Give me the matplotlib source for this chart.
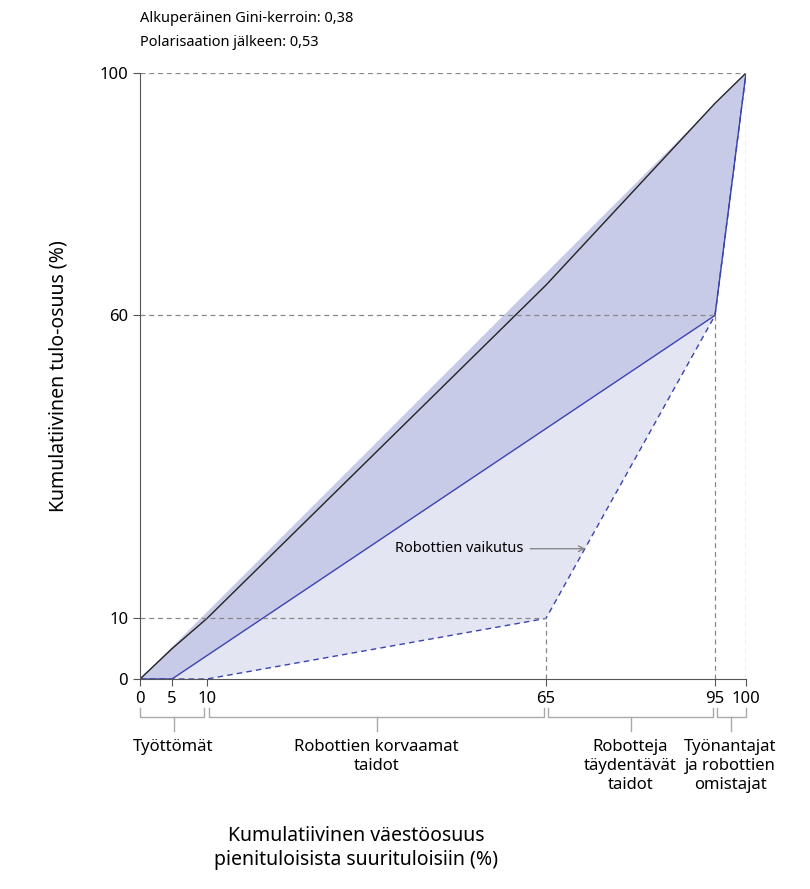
import matplotlib
matplotlib.use("Agg")
import matplotlib.pyplot as plt
import numpy as np

orig_x = [0, 5, 95, 100]
orig_y = [0, 0, 60, 100]
pol_x = [0, 10, 65, 95, 100]
pol_y = [0, 0, 10, 60, 100]
xticks = [0, 5, 10, 65, 95, 100]
yticks = [0, 10, 60, 100]
groups = [(0, 10, "Työttömät"), (10, 65, "Robottien korvaamat\ntaidot"),
          (65, 95, "Robotteja\ntäydentävät\ntaidot"), (95, 100, "Työnantajat\nja robottien\nomistajat")]

# the reference's x axis is drawn piecewise (not strictly linear)
_d = np.array([0, 5, 10, 65, 95, 100], float)
_p = np.array([0, 32, 67, 406, 575, 606], float) / 606 * 100
fwd = lambda v: np.interp(v, _d, _p, left=None, right=None)
inv = lambda v: np.interp(v, _p, _d)

plt.rcParams["font.family"] = "Noto Sans"
fig = plt.figure(figsize=(8.1, 8.89), dpi=100)
ax = fig.add_axes([140/810, 1-679/889, 606/810, 606/889])
ax.set_xscale("function", functions=(fwd, inv))
ax.set_xlim(0, 100); ax.set_ylim(0, 100)
ax.fill_between(orig_x + [100], orig_y + [100], np.interp(orig_x + [100], [0, 100], [0, 100]), color="#c8cbe8", lw=0)
ax.fill([0, 100] + orig_x[::-1], [0, 100] + orig_y[::-1], color="#c8cbe8", lw=0)
ax.fill(pol_x + orig_x[::-1], pol_y + orig_y[::-1], color="#e3e5f3", lw=0)
ax.plot([0, 5, 10, 65, 95, 100], [0, 5, 10, 65, 95, 100], color="#222222", lw=1)
ax.plot(orig_x, orig_y, color="#3a44b0", lw=1)
ax.plot(pol_x, pol_y, color="#3a44b0", lw=1, ls=(0, (4, 3)))
gc = "#888888"
for yv, xv in [(10, 65), (60, 95), (100, 100)]:
    ax.plot([0, xv], [yv, yv], color=gc, lw=0.9, ls=(0, (4, 3)))
for xv, yv in [(65, 10), (95, 60), (100, 100)]:
    ax.plot([xv, xv], [0, yv], color=gc, lw=0.9, ls=(0, (4, 3)))
for s in ["top", "right"]:
    ax.spines[s].set_visible(False)
for s in ["left", "bottom"]:
    ax.spines[s].set_color("#555555")
ax.set_xticks(xticks); ax.set_yticks(yticks)
ax.set_xticklabels([str(t) for t in xticks]); ax.set_yticklabels([str(t) for t in yticks])
ax.minorticks_off()
ax.tick_params(labelsize=12, color="#555555", length=5)
ax.set_ylabel("Kumulatiivinen tulo-osuus (%)", fontsize=14, labelpad=22)
ax.text(40.5, 21.5, "Robottien vaikutus", fontsize=10.5, ha="left", va="center")
ax.annotate("", xy=(72.5, 21.5), xytext=(62, 21.5),
            arrowprops=dict(arrowstyle="->", color="#888888", lw=1))
fig.text(140/810, 1-18/889, "Alkuperäinen Gini-kerroin: 0,38", fontsize=10.5, va="center")
fig.text(140/810, 1-42/889, "Polarisaation jälkeen: 0,53", fontsize=10.5, va="center")
bc = "#aaaaaa"
yb = -6.3
for a, b, lab in groups:
    a2 = a + 0.4 if a > 0 else a
    b2 = b - 0.4 if b < 100 else b
    ax.plot([a2, a2, b2, b2], [yb + 1.5, yb, yb, yb + 1.5], color=bc, lw=1, clip_on=False)
    m = float(inv((fwd(a) + fwd(b)) / 2))
    ax.plot([m, m], [yb, yb - 2.3], color=bc, lw=1, clip_on=False)
    ax.text(m, yb - 3.6, lab, ha="center", va="top", fontsize=12, linespacing=1.25)
fig.text(356/810, 1-848/889, "Kumulatiivinen väestöosuus\npienituloisista suurituloisiin (%)",
         ha="center", va="center", fontsize=14, linespacing=1.3)
fig.savefig("out.png", dpi=100)
